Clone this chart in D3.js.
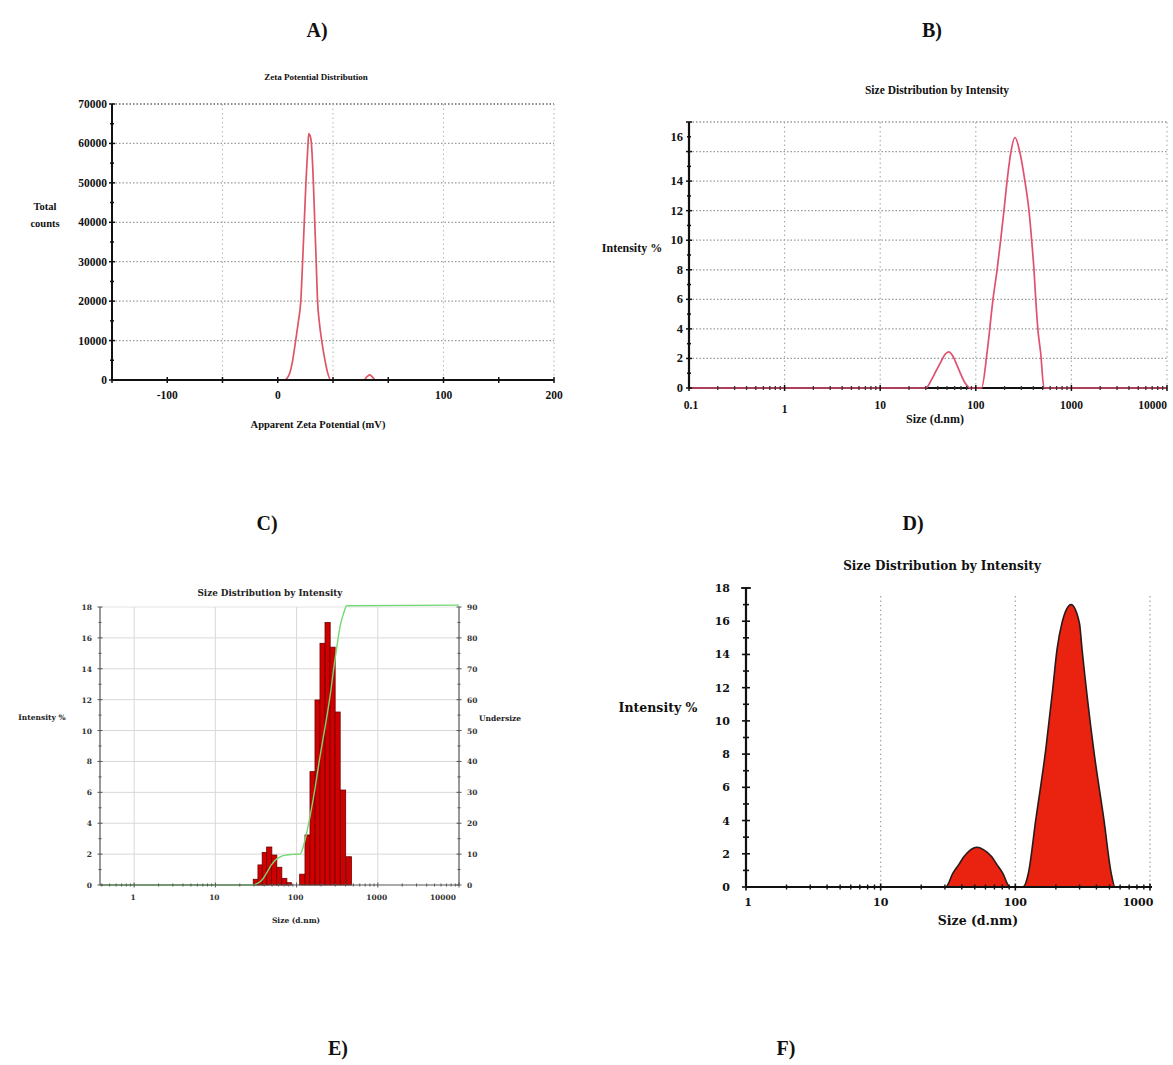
<!DOCTYPE html>
<html><head><meta charset="utf-8">
<script src="https://cdn.jsdelivr.net/npm/d3@7"></script>
<style>
body{margin:0;background:#fff}
svg{display:block}
.tm{font-family:"Liberation Serif","Times New Roman",serif;font-weight:bold}
.dv{font-family:"DejaVu Serif",serif;font-weight:bold}
</style></head>
<body><svg id="c" width="1173" height="1065"></svg>
<script>
// ---------------- DATA ----------------
const panelLabels = ["A)", "B)", "C)", "D)", "E)", "F)"];

// A) Zeta potential distribution
const zetaMv     = [-150, 0, 4, 7, 9, 10.8, 12.5, 13.9, 15, 16, 17, 18, 18.7, 19.5, 20.3, 21.5, 22.5, 23.2, 24, 25, 26.5, 28.5, 30, 32, 52, 54, 55.5, 57, 59, 200];
const zetaCounts = [0, 0, 0, 1500, 5000, 10000, 15000, 20000, 30000, 40000, 50000, 58000, 62500, 62000, 60000, 50000, 38000, 30000, 20000, 15000, 10000, 5000, 2000, 0, 0, 900, 1300, 800, 0, 0];
const zetaXTicks = [-100, 0, 100, 200];
const zetaXTickLabels = ["-100", "0", "100", "200"];
const zetaYTicks = [0, 10000, 20000, 30000, 40000, 50000, 60000, 70000];

// B) Size distribution by intensity (line)
const sizeB      = [0.1, 30, 34, 38, 43, 48, 52, 57, 63, 70, 78, 87, 100, 115, 131, 151, 167, 182, 197, 212, 232, 257, 290, 327, 360, 384, 406, 424, 447, 477, 517, 10000];
const intensityB = [0, 0, 0.5, 1.1, 1.75, 2.3, 2.45, 2.2, 1.6, 0.9, 0.3, 0, 0, 0, 2.37, 5.95, 8, 10, 12, 13.96, 15.9, 16.95, 15.9, 13.96, 12, 10, 8, 5.95, 3.9, 2.37, 0, 0];
const sizeBTicks = [0.1, 1, 10, 100, 1000, 10000];
const sizeBTickLabels = ["0.1", "1", "10", "100", "1000", "10000"];
const intBTickPos = [0, 2, 4, 6, 8, 10, 12, 14, 17];
const intBTickLabels = ["0", "2", "4", "6", "8", "10", "12", "14", "16"];

// C) Size distribution by intensity (histogram + undersize)
const sizeC      = [31.5, 36.0, 40.6, 46.1, 53.1, 61.2, 70.6, 80.2, 117.5, 136.6, 157.4, 181.4, 209, 241, 277.5, 320, 374, 440];
const intensityC = [0.37, 1.3, 2.1, 2.46, 1.94, 1.15, 0.43, 0.15, 0.7, 3.24, 7.34, 11.98, 15.65, 17.0, 15.4, 11.2, 6.15, 1.83];
const undersizeSize = [0.38, 28, 33, 38, 43, 49, 56, 65, 75, 90, 110, 127, 146, 168, 194, 224, 258, 290, 313, 345, 380, 415, 10000];
const undersizePct  = [0, 0, 0.5, 1.8, 4, 6.5, 8.3, 9.3, 9.7, 9.9, 10, 14.5, 22, 31, 41.5, 51, 61, 71, 77, 84, 88, 90.4, 90.6];
const sizeCTicks = [1, 10, 100, 1000, 10000];
const intCTicks = [0, 2, 4, 6, 8, 10, 12, 14, 16, 18];
const underCTicks = [0, 10, 20, 30, 40, 50, 60, 70, 80, 90];

// D) Size distribution by intensity (filled area)
const sizeD      = [1, 30.4, 34.4, 38, 41.6, 46, 51.8, 58, 66.6, 73, 80.6, 91.3, 113.9, 125, 141.8, 169, 190, 204, 222, 259.5, 299, 313, 382, 455, 515, 550, 1000];
const intensityD = [0, 0, 0.83, 1.35, 1.83, 2.2, 2.39, 2.25, 1.83, 1.35, 0.83, 0, 0, 0.83, 4.04, 8.4, 12.0, 14.3, 15.9, 17.0, 15.9, 14.3, 8.25, 4.04, 0.83, 0, 0];
const sizeDTicks = [1, 10, 100, 1000];
const intDTicks = [0, 2, 4, 6, 8, 10, 12, 14, 16, 18];

// ---------------- DRAW ----------------
const svg = d3.select("#c");
svg.append("rect").attr("width", 1173).attr("height", 1065).attr("fill", "#fff");

const TM = "tm", DV = "dv";
function txt(g, x, y, s, cls, size, anchor = "middle", fill = "#111") {
  return g.append("text").attr("class", cls).attr("x", x).attr("y", y)
    .attr("font-size", size).attr("text-anchor", anchor).attr("fill", fill).text(s);
}
function line(g, x1, y1, x2, y2, stroke, w, dash) {
  const l = g.append("line").attr("x1", x1).attr("y1", y1).attr("x2", x2).attr("y2", y2)
    .attr("stroke", stroke).attr("stroke-width", w);
  if (dash) l.attr("stroke-dasharray", dash);
  return l;
}
function minorLogTicks(domain) {
  const out = [];
  const lo = Math.floor(Math.log10(domain[0])), hi = Math.ceil(Math.log10(domain[1]));
  for (let e = lo; e < hi; e++) for (let m = 2; m <= 9; m++) {
    const v = m * Math.pow(10, e);
    if (v >= domain[0] && v <= domain[1]) out.push(v);
  }
  return out;
}

// Panel letters
const letterPos = [[317, 37], [932, 37], [267, 530], [913, 530], [338, 1055], [786, 1055]];
panelLabels.forEach((l, i) => txt(svg, letterPos[i][0], letterPos[i][1], l, TM, 20));

// ===== Panel A =====
(function () {
  const g = svg.append("g");
  const L = 112, R = 554, T = 104, B = 380;
  const step = (R - L) / 8;
  const xA = d3.scaleLinear().domain([-150, -100, 0, 100, 200]).range([0, 1, 3, 6, 8].map(i => L + i * step));
  const yA = d3.scaleLinear().domain([0, 70000]).range([B, T]);
  const gridIdx = d3.range(0, 9);
  zetaYTicks.slice(1).forEach(v => line(g, L, yA(v), R, yA(v), v === 70000 ? "#666" : "#999", 1.3, "1.5,2"));
  [2, 4, 6, 8].forEach(i => line(g, L + i * step, T, L + i * step, B, "#bbb", 1.1, "1.5,3"));
  const pts = zetaMv.map((m, i) => [m, zetaCounts[i]]);
  g.append("path").attr("d", d3.line().x(d => xA(d[0])).y(d => yA(d[1])).curve(d3.curveMonotoneX)(pts))
    .attr("fill", "none").attr("stroke", "#dd5566").attr("stroke-width", 1.7);
  line(g, L, T, L, B, "#111", 2);
  line(g, L, B, R, B, "#111", 2);
  zetaYTicks.forEach(v => line(g, L - 3, yA(v), L + 3, yA(v), "#111", 1.5));
  zetaYTicks.slice(0, -1).forEach(v => line(g, L - 2, yA(v + 5000), L + 2, yA(v + 5000), "#111", 1.5));
  gridIdx.forEach(i => line(g, L + i * step, B - 3, L + i * step, B + 3, "#111", 1.5));
  zetaYTicks.forEach(v => txt(g, 107, yA(v) + 4, String(v), TM, 11.5, "end"));
  zetaXTicks.forEach((v, i) => txt(g, xA(v), 399, zetaXTickLabels[i], TM, 11.5));
  txt(g, 316, 80, "Zeta Potential Distribution", TM, 9);
  txt(g, 45, 210, "Total", TM, 10.5);
  txt(g, 45, 227, "counts", TM, 10.5);
  txt(g, 318, 428, "Apparent Zeta Potential (mV)", TM, 10.5);
})();

// ===== Panel B =====
(function () {
  const g = svg.append("g");
  const L = 689, R = 1167, T = 122, B = 388;
  const xB = d3.scaleLog().domain([0.1, 10000]).range([L, R]);
  const yB = d3.scaleLinear().domain([0, 18]).range([B, T]);
  d3.range(2, 19, 2).forEach(v => line(g, L, yB(v), R, yB(v), v === 18 ? "#666" : "#999", 1.2, "1.5,2"));
  sizeBTicks.slice(1).forEach(v => line(g, xB(v), T, xB(v), B, "#aaa", 1.1, "1.5,3"));
  line(g, L, B, R, B, "#111", 2.2);
  const pts = sizeB.map((s, i) => [s, intensityB[i]]);
  g.append("path").attr("d", d3.line().x(d => xB(d[0])).y(d => yB(d[1])).curve(d3.curveMonotoneX)(pts))
    .attr("fill", "none").attr("stroke", "#e05070").attr("stroke-width", 1.7);
  line(g, L, T, L, B, "#111", 2.2);
  d3.range(0, 19).forEach(v => line(g, L - (v % 2 ? 2 : 3), yB(v), L + (v % 2 ? 2 : 3), yB(v), "#111", 1.5));
  minorLogTicks([0.1, 10000]).forEach(v => line(g, xB(v), B - 2, xB(v), B + 2, "#333", 1.3));
  sizeBTicks.forEach(v => line(g, xB(v), B - 3, xB(v), B + 3, "#111", 1.5));
  intBTickPos.forEach((v, i) => txt(g, 683, yB(v) + 4, intBTickLabels[i], TM, 12.5, "end"));
  sizeBTicks.forEach((v, i) => {
    const a = i === sizeBTicks.length - 1 ? "end" : "middle";
    txt(g, xB(v) + (i === 0 ? 2 : 0), i === 1 ? 413 : 409, sizeBTickLabels[i], TM, 11.5, a);
  });
  txt(g, 937, 94, "Size Distribution by Intensity", TM, 11.5);
  txt(g, 632, 252, "Intensity %", TM, 12);
  txt(g, 935, 423, "Size (d.nm)", TM, 12);
})();

// ===== Panel C =====
(function () {
  const g = svg.append("g");
  const L = 100, R = 459, T = 607, B = 885;
  const xC = d3.scaleLog().domain([0.38, 10000]).range([L, R]);
  const yC = d3.scaleLinear().domain([0, 18]).range([B, T]);
  const yU = d3.scaleLinear().domain([0, 90]).range([B, T]);
  intCTicks.slice(1).forEach(v => line(g, L, yC(v), R, yC(v), v === 18 ? "#e4e4e4" : "#d8d8d8", 1));
  sizeCTicks.slice(0, -1).forEach(v => line(g, xC(v), T, xC(v), B, "#d8d8d8", 1));
  const r = Math.sqrt(1.158);
  g.selectAll("rect.bar").data(sizeC).enter().append("rect")
    .attr("x", s => xC(s / r)).attr("width", s => xC(s * r) - xC(s / r))
    .attr("y", (s, i) => yC(intensityC[i])).attr("height", (s, i) => yC(0) - yC(intensityC[i]))
    .attr("fill", "#d00000").attr("stroke", "#6a0000").attr("stroke-width", 0.8);
  const up = undersizeSize.map((s, i) => [s, undersizePct[i]]);
  g.append("path").attr("d", d3.line().x(d => xC(d[0])).y(d => yU(d[1])).curve(d3.curveMonotoneX)(up))
    .attr("fill", "none").attr("stroke", "#74d874").attr("stroke-width", 1.4);
  line(g, L, T, L, B, "#555", 1.2);
  line(g, R, T, R, B, "#555", 1.2);
  line(g, L, B, R, B, "#555", 1.2);
  d3.range(0, 19).forEach(v => line(g, L - (v % 2 ? 1.5 : 2.5), yC(v), L + (v % 2 ? 1.5 : 2.5), yC(v), "#555", 1));
  d3.range(0, 91, 5).forEach(v => line(g, R - (v % 10 ? 1.5 : 2.5), yU(v), R + (v % 10 ? 1.5 : 2.5), yU(v), "#555", 1));
  minorLogTicks([0.38, 10000]).forEach(v => line(g, xC(v), B - 1.5, xC(v), B + 1.5, "#555", 1));
  sizeCTicks.forEach(v => line(g, xC(v), B - 2.5, xC(v), B + 2.5, "#555", 1));
  intCTicks.forEach(v => txt(g, 92, yC(v) + 3, String(v), DV, 7.5, "end", "#333"));
  underCTicks.forEach(v => txt(g, 467, yU(v) + 3, String(v), DV, 7.5, "start", "#333"));
  sizeCTicks.forEach((v, i) => {
    const last = i === sizeCTicks.length - 1;
    txt(g, last ? 456 : xC(v) - 1, 900, String(v), DV, 7.5, last ? "end" : "middle", "#333");
  });
  txt(g, 270, 596, "Size Distribution by Intensity", DV, 8.8, "middle", "#222");
  txt(g, 42, 720, "Intensity %", DV, 7.5, "middle", "#222");
  txt(g, 500, 721, "Undersize", DV, 7.5, "middle", "#222");
  txt(g, 296, 923, "Size (d.nm)", DV, 7.5, "middle", "#222");
})();

// ===== Panel D =====
(function () {
  const g = svg.append("g");
  const L = 746, R = 1152, T = 588, B = 887;
  const xD = d3.scaleLog().domain([1, 1000]).range([L, 1150]);
  const yD = d3.scaleLinear().domain([0, 18]).range([B, T]);
  sizeDTicks.slice(1).forEach(v => line(g, xD(v), T + 8, xD(v), B, "#aaa", 1.3, "1.5,3"));
  const pts = sizeD.map((s, i) => [s, intensityD[i]]);
  g.append("path").attr("d", d3.area().x(d => xD(d[0])).y0(yD(0)).y1(d => yD(d[1])).curve(d3.curveMonotoneX)(pts))
    .attr("fill", "#ea2210").attr("stroke", "#2a1a1a").attr("stroke-width", 1.6);
  line(g, L, T, L, B, "#111", 2.2);
  line(g, L, B, R, B, "#111", 2.2);
  line(g, L - 5, T, L + 5, T, "#111", 1.6);
  d3.range(0, 19).forEach(v => line(g, L - (v % 2 ? 3 : 4), yD(v), L + (v % 2 ? 3 : 4), yD(v), "#111", 1.6));
  minorLogTicks([1, 1000]).forEach(v => line(g, xD(v), B - 2.5, xD(v), B + 2.5, "#111", 1.4));
  sizeDTicks.forEach(v => line(g, xD(v), B - 3.5, xD(v), B + 3.5, "#111", 1.6));
  intDTicks.forEach(v => txt(g, 730, yD(v) + 4, String(v), DV, 11, "end", "#111"));
  sizeDTicks.forEach((v, i) => txt(g, xD(v) + (i === 0 ? 2 : (i === 3 ? -12 : 0)), 906, String(v), DV, 11, "middle", "#111"));
  txt(g, 942, 570, "Size Distribution by Intensity", DV, 12, "middle", "#111");
  txt(g, 658, 712, "Intensity %", DV, 12.5, "middle", "#111");
  txt(g, 978, 925, "Size (d.nm)", DV, 12.5, "middle", "#111");
})();
</script>
</body></html>
